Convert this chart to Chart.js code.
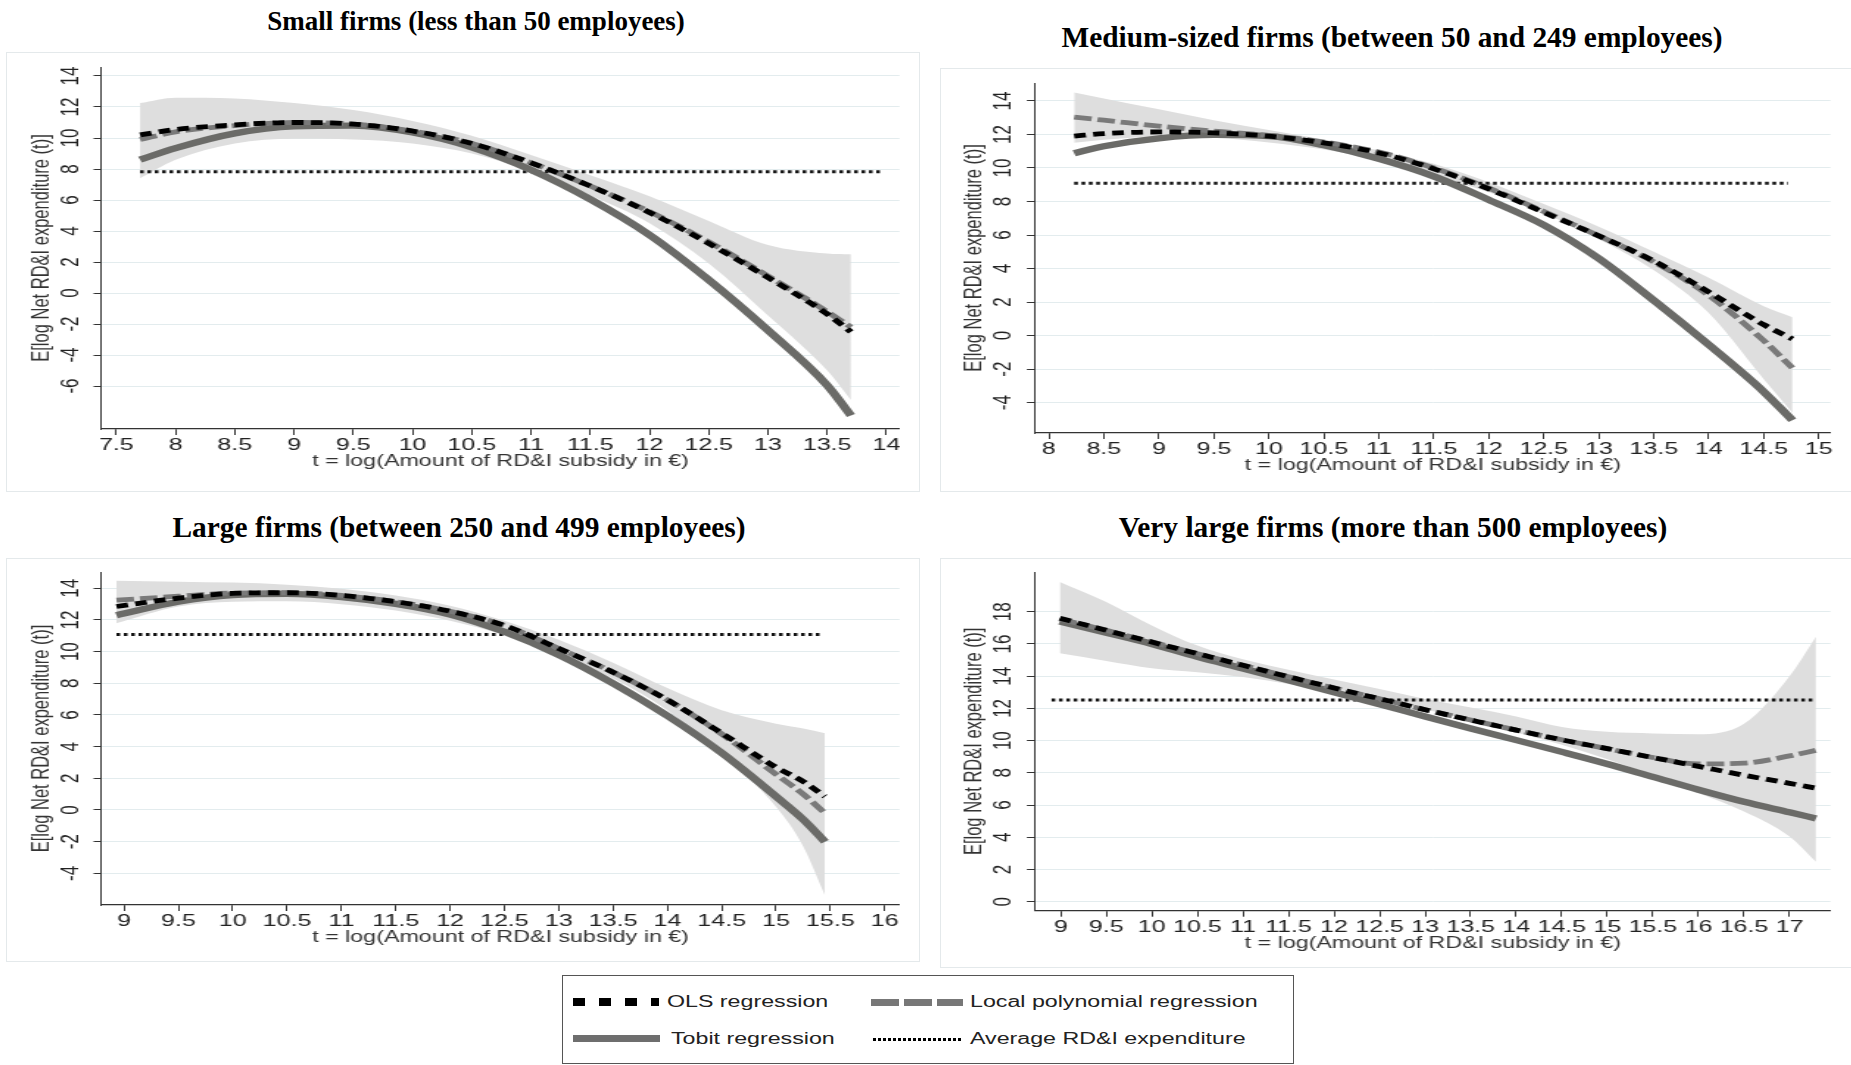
<!DOCTYPE html>
<html>
<head>
<meta charset="utf-8">
<title>RD&amp;I subsidy and net RD&amp;I expenditure by firm size</title>
<script src="https://cdn.jsdelivr.net/npm/chart.js@4.4.0/dist/chart.umd.min.js"></script>
<style>
  body { margin: 0; width: 1851px; height: 1065px; overflow: hidden; background: #fff; position: relative; }
  .ptitle { position: absolute; font: bold 29.4px 'Liberation Serif', 'Times New Roman', serif; color: #000;
            transform: translate(-50%, -50%); white-space: nowrap; }
  .panel { position: absolute; box-shadow: inset 0 0 0 1px #e4e9eb; }
  .stretch { position: absolute; left: 0; top: 0; transform-origin: 0 0; }
  #legend { position: absolute; left: 562px; top: 975px; width: 732px; height: 89px;
            border: 1.5px solid #555; box-sizing: border-box; }
  .key { position: absolute; }
  #keyOls { left: 10px; top: 22px; width: 86px; height: 8px;
            background: repeating-linear-gradient(90deg, #000 0 12px, transparent 12px 26px); }
  #keyLocal { left: 308px; top: 23px; width: 92px; height: 7px;
              background: repeating-linear-gradient(90deg, #777 0 28px, transparent 28px 33px); }
  #keyTobit { left: 10px; top: 59px; width: 87px; height: 7px; background: #6e6e6e; }
  #keyAvg { left: 310px; top: 62px; width: 88px; height: 3px;
            background: repeating-linear-gradient(90deg, #000 0 3px, transparent 3px 5px); }
  .ltext { position: absolute; font: 16px 'Liberation Sans', Arial, sans-serif; color: #222; line-height: 1;
           transform-origin: 0 50%; transform: translateY(-50%) scaleX(1.45); white-space: nowrap; }
</style>
</head>
<body>

<div class="ptitle" style="left:476px;top:21px;font-size:27px">Small firms (less than 50 employees)</div>
<div class="ptitle" style="left:1392px;top:37px">Medium-sized firms (between 50 and 249 employees)</div>
<div class="ptitle" style="left:459px;top:527px">Large firms (between 250 and 499 employees)</div>
<div class="ptitle" style="left:1393px;top:527px">Very large firms (more than 500 employees)</div>

<div class="panel" id="panel1"><div class="stretch"><canvas id="chart1"></canvas></div></div>
<div class="panel" id="panel2"><div class="stretch"><canvas id="chart2"></canvas></div></div>
<div class="panel" id="panel3"><div class="stretch"><canvas id="chart3"></canvas></div></div>
<div class="panel" id="panel4"><div class="stretch"><canvas id="chart4"></canvas></div></div>

<div id="legend">
  <div class="key" id="keyOls"></div>
  <div class="ltext" style="left:104px;top:26px">OLS regression</div>
  <div class="key" id="keyLocal"></div>
  <div class="ltext" style="left:407px;top:26px">Local polynomial regression</div>
  <div class="key" id="keyTobit"></div>
  <div class="ltext" style="left:108px;top:63px">Tobit regression</div>
  <div class="key" id="keyAvg"></div>
  <div class="ltext" style="left:407px;top:63px">Average RD&amp;I expenditure</div>
</div>

<script>
'use strict';

// Small firms (less than 50 employees)
const smallX = [7.7, 8, 8.5, 9, 9.5, 10, 10.5, 11, 11.5, 12, 12.5, 13, 13.5, 13.7];
const smallOls = [10.2, 10.55, 10.85, 11.0, 10.9, 10.45, 9.65, 8.4, 6.9, 5.2, 3.2, 1.0, -1.35, -2.5];
const smallLocal = [9.9, 10.4, 10.8, 11.0, 10.9, 10.45, 9.65, 8.4, 6.9, 5.25, 3.3, 1.1, -1.2, -2.2];
const smallTobit = [8.6, 9.35, 10.3, 10.75, 10.8, 10.35, 9.4, 7.95, 6.05, 3.75, 0.85, -2.4, -5.95, -7.9];
const smallUpper = [12.25, 12.6, 12.55, 12.25, 11.8, 11.1, 10.15, 8.9, 7.6, 6.25, 4.65, 3.1, 2.55, 2.5];
const smallLower = [7.4, 8.6, 9.65, 9.95, 9.9, 9.65, 9.0, 7.85, 6.3, 4.5, 1.9, -1.45, -5.0, -6.9];
const smallAvgX = [7.7, 13.95];
const smallAvg = [7.83, 7.83];
const smallXTicks = [7.5, 8, 8.5, 9, 9.5, 10, 10.5, 11, 11.5, 12, 12.5, 13, 13.5, 14];
const smallYTicks = [-6, -4, -2, 0, 2, 4, 6, 8, 10, 12, 14];

// Medium-sized firms (between 50 and 249 employees)
const mediumX = [8.23, 8.5, 9, 9.5, 10, 10.5, 11, 11.5, 12, 12.5, 13, 13.5, 14, 14.5, 14.76];
const mediumOls = [11.9, 12.05, 12.15, 12.1, 11.9, 11.5, 10.9, 9.95, 8.75, 7.35, 5.95, 4.45, 2.6, 0.65, -0.2];
const mediumLocal = [13.03, 12.85, 12.5, 12.2, 11.95, 11.55, 10.95, 10.0, 8.8, 7.4, 5.95, 4.4, 2.4, -0.3, -1.93];
const mediumTobit = [10.88, 11.3, 11.77, 11.97, 11.9, 11.35, 10.55, 9.5, 8.1, 6.6, 4.6, 2.1, -0.55, -3.35, -5.05];
const mediumUpper = [14.5, 14.15, 13.5, 12.85, 12.27, 11.7, 11.05, 10.25, 9.15, 7.85, 6.5, 5.0, 3.45, 1.75, 1.1];
const mediumLower = [11.5, 11.68, 11.87, 11.8, 11.52, 11.1, 10.45, 9.55, 8.55, 7.3, 5.75, 3.9, 1.35, -2.6, -4.6];
const mediumAvgX = [8.23, 14.72];
const mediumAvg = [9.09, 9.09];
const mediumXTicks = [8, 8.5, 9, 9.5, 10, 10.5, 11, 11.5, 12, 12.5, 13, 13.5, 14, 14.5, 15];
const mediumYTicks = [-4, -2, 0, 2, 4, 6, 8, 10, 12, 14];

// Large firms (between 250 and 499 employees)
const largeX = [8.93, 9.5, 10, 10.5, 11, 11.5, 12, 12.5, 13, 13.5, 14, 14.5, 15, 15.25, 15.45];
const largeOls = [12.85, 13.38, 13.68, 13.72, 13.55, 13.15, 12.55, 11.65, 10.2, 8.7, 6.95, 4.85, 2.7, 1.8, 0.85];
const largeLocal = [13.25, 13.5, 13.7, 13.72, 13.55, 13.15, 12.55, 11.65, 10.2, 8.7, 6.95, 4.8, 2.25, 1.0, -0.2];
const largeTobit = [12.3, 13.15, 13.57, 13.65, 13.45, 13.02, 12.35, 11.25, 9.8, 8.0, 5.95, 3.6, 0.85, -0.6, -2.0];
const largeUpper = [14.48, 14.42, 14.36, 14.23, 13.97, 13.55, 12.9, 11.95, 10.75, 9.3, 7.7, 6.3, 5.45, 5.15, 4.85];
const largeLower = [11.8, 12.85, 13.15, 13.18, 13.0, 12.6, 11.95, 11.05, 9.75, 8.3, 6.3, 3.5, 0.2, -2.3, -5.4];
const largeAvgX = [8.93, 15.43];
const largeAvg = [11.09, 11.09];
const largeXTicks = [9, 9.5, 10, 10.5, 11, 11.5, 12, 12.5, 13, 13.5, 14, 14.5, 15, 15.5, 16];
const largeYTicks = [-4, -2, 0, 2, 4, 6, 8, 10, 12, 14];

// Very large firms (more than 500 employees)
const veryLargeX = [8.99, 9.5, 10, 10.5, 11, 11.5, 12, 12.5, 13, 13.5, 14, 14.5, 15, 15.5, 16, 16.5, 17, 17.29];
const veryLargeOls = [17.6, 16.85, 16.12, 15.4, 14.68, 13.97, 13.27, 12.6, 11.92, 11.28, 10.65, 10.05, 9.5, 8.95, 8.4, 7.85, 7.35, 7.05];
const veryLargeLocal = [17.55, 16.85, 16.12, 15.4, 14.68, 13.97, 13.27, 12.6, 11.92, 11.28, 10.65, 10.05, 9.5, 8.95, 8.55, 8.6, 9.05, 9.4];
const veryLargeTobit = [17.4, 16.7, 16.0, 15.2, 14.48, 13.75, 13.0, 12.25, 11.5, 10.75, 10.03, 9.3, 8.55, 7.75, 6.95, 6.2, 5.55, 5.17];
const veryLargeUpper = [19.85, 18.6, 17.15, 15.9, 15.05, 14.4, 13.8, 13.2, 12.58, 12.05, 11.5, 10.85, 10.55, 10.45, 10.4, 11.05, 14.0, 16.45];
const veryLargeLower = [15.42, 14.95, 14.5, 14.25, 13.95, 13.52, 13.05, 12.5, 11.95, 11.25, 10.5, 9.75, 8.85, 7.85, 6.75, 5.6, 4.05, 2.48];
const veryLargeAvgX = [8.9, 17.29];
const veryLargeAvg = [12.52, 12.52];
const veryLargeXTicks = [9, 9.5, 10, 10.5, 11, 11.5, 12, 12.5, 13, 13.5, 14, 14.5, 15, 15.5, 16, 16.5, 17];
const veryLargeYTicks = [0, 2, 4, 6, 8, 10, 12, 14, 16, 18];

const xTitle = 't = log(Amount of RD&I subsidy in €)';
const yTitle = 'E[log Net RD&I expenditure (t)]';

// The Stata graphs in the picture are stretched sideways, so each canvas is too
const STRETCH = 1.47;
const FONT = "'Liberation Sans', Arial, sans-serif";

// where each graph sits on the page: box = [left, top, width, height], plot = [left, top, right, bottom]
let panels = [
  { id: 'panel1', canvas: 'chart1', box: [6, 52, 914, 440], plot: [101.5, 67, 898, 429],
    xRange: [7.376, 14.11], yRange: [-8.77, 14.58],
    x: smallX, ols: smallOls, local: smallLocal, tobit: smallTobit, upper: smallUpper, lower: smallLower,
    avgX: smallAvgX, avg: smallAvg, xTicks: smallXTicks, yTicks: smallYTicks },
  { id: 'panel2', canvas: 'chart2', box: [940, 68, 915, 424], plot: [1035, 83, 1830.6, 433],
    xRange: [7.874, 15.107], yRange: [-5.81, 15.07],
    x: mediumX, ols: mediumOls, local: mediumLocal, tobit: mediumTobit, upper: mediumUpper, lower: mediumLower,
    avgX: mediumAvgX, avg: mediumAvg, xTicks: mediumXTicks, yTicks: mediumYTicks },
  { id: 'panel3', canvas: 'chart3', box: [6, 558, 914, 404], plot: [101.5, 572, 898, 905],
    xRange: [8.794, 16.136], yRange: [-6.0, 15.03],
    x: largeX, ols: largeOls, local: largeLocal, tobit: largeTobit, upper: largeUpper, lower: largeLower,
    avgX: largeAvgX, avg: largeAvg, xTicks: largeXTicks, yTicks: largeYTicks },
  { id: 'panel4', canvas: 'chart4', box: [940, 558, 915, 410], plot: [1035, 572, 1830.6, 910.7],
    xRange: [8.718, 17.45], yRange: [-0.56, 20.47],
    x: veryLargeX, ols: veryLargeOls, local: veryLargeLocal, tobit: veryLargeTobit, upper: veryLargeUpper, lower: veryLargeLower,
    avgX: veryLargeAvgX, avg: veryLargeAvg, xTicks: veryLargeXTicks, yTicks: veryLargeYTicks }
];

function points(xs, ys) {
  return xs.map((x, i) => ({ x: x, y: ys[i] }));
}

function buildDatasets(p) {
  return [
    { label: 'OLS regression', data: points(p.x, p.ols), borderColor: '#000', borderWidth: 4.8,
      borderDash: [8, 5], order: 1 },
    { label: 'Local polynomial regression', data: points(p.x, p.local), borderColor: '#7a7a7a', borderWidth: 4.8,
      borderDash: [12, 4], order: 2 },
    { label: 'Tobit regression', data: points(p.x, p.tobit), borderColor: '#6b6b68', borderWidth: 6.3, order: 3 },
    { label: 'Average RD&I expenditure', data: points(p.avgX, p.avg), borderColor: '#111', borderWidth: 3,
      borderDash: [2.5, 2.5], cubicInterpolationMode: 'default', tension: 0, order: 4 },
    // confidence band, filled down to the next dataset
    { label: 'band upper', data: points(p.x, p.upper), borderColor: 'rgba(0,0,0,0)', borderWidth: 0,
      backgroundColor: '#dedede', fill: '+1', order: 5 },
    { label: 'band lower', data: points(p.x, p.lower), borderColor: 'rgba(0,0,0,0)', borderWidth: 0,
      fill: false, order: 6 }
  ];
}

function makeChart(p) {
  let w = p.box[2] / STRETCH;
  let h = p.box[3];
  let left = (p.plot[0] - p.box[0]) / STRETCH;
  let right = (p.plot[2] - p.box[0]) / STRETCH;
  let top = p.plot[1] - p.box[1];
  let bottom = p.plot[3] - p.box[1];

  let panel = document.getElementById(p.id);
  panel.style.left = p.box[0] + 'px';
  panel.style.top = p.box[1] + 'px';
  panel.style.width = p.box[2] + 'px';
  panel.style.height = p.box[3] + 'px';
  let inner = panel.querySelector('.stretch');
  inner.style.width = w + 'px';
  inner.style.height = h + 'px';
  inner.style.transform = 'scaleX(' + STRETCH + ')';

  const ctx = document.getElementById(p.canvas).getContext('2d');
  return new Chart(ctx, {
    type: 'line',
    data: { datasets: buildDatasets(p) },
    options: {
      responsive: true,
      maintainAspectRatio: false,
      animation: false,
      events: [],
      layout: { padding: { left: 0, top: top, right: w - right, bottom: 0 } },
      elements: {
        point: { radius: 0 },
        line: { cubicInterpolationMode: 'monotone', borderCapStyle: 'butt' }
      },
      plugins: { legend: { display: false }, tooltip: { enabled: false } },
      scales: {
        x: {
          type: 'linear',
          min: p.xRange[0],
          max: p.xRange[1],
          afterBuildTicks: (scale) => { scale.ticks = p.xTicks.map(v => ({ value: v })); },
          afterFit: (scale) => { scale.height = h - bottom; scale.paddingLeft = 0; scale.paddingRight = 0; },
          ticks: { autoSkip: false, maxRotation: 0, minRotation: 0, padding: 0, color: '#222',
                   font: { family: FONT, size: 17 }, callback: (v) => String(v) },
          grid: { drawOnChartArea: false, drawTicks: true, tickLength: 6, color: '#333', tickColor: '#333' },
          border: { display: true, color: '#333', width: 1.2 },
          title: { display: true, text: xTitle, color: '#333', font: { family: FONT, size: 15.8 },
                   padding: { top: 0, bottom: (h - bottom) - 33 - 9.5 } }
        },
        y: {
          type: 'linear',
          min: p.yRange[0],
          max: p.yRange[1],
          afterBuildTicks: (scale) => { scale.ticks = p.yTicks.map(v => ({ value: v })); },
          afterFit: (scale) => { scale.width = left; scale.paddingTop = 0; scale.paddingBottom = 0; },
          ticks: { minRotation: 90, maxRotation: 90, crossAlign: 'center', padding: 6, color: '#222',
                   font: { family: FONT, size: 17 }, callback: (v) => String(v) },
          grid: { color: '#e3ecee', tickColor: '#333', tickLength: 5.5, drawTicks: true },
          border: { display: true, color: '#333', width: 1 },
          title: { display: true, text: yTitle, color: '#333', font: { family: FONT, size: 16.5 },
                   padding: { top: left - 60 / STRETCH - 10, bottom: 0 } }
        }
      }
    }
  });
}

panels.forEach(makeChart);
</script>
</body>
</html>
